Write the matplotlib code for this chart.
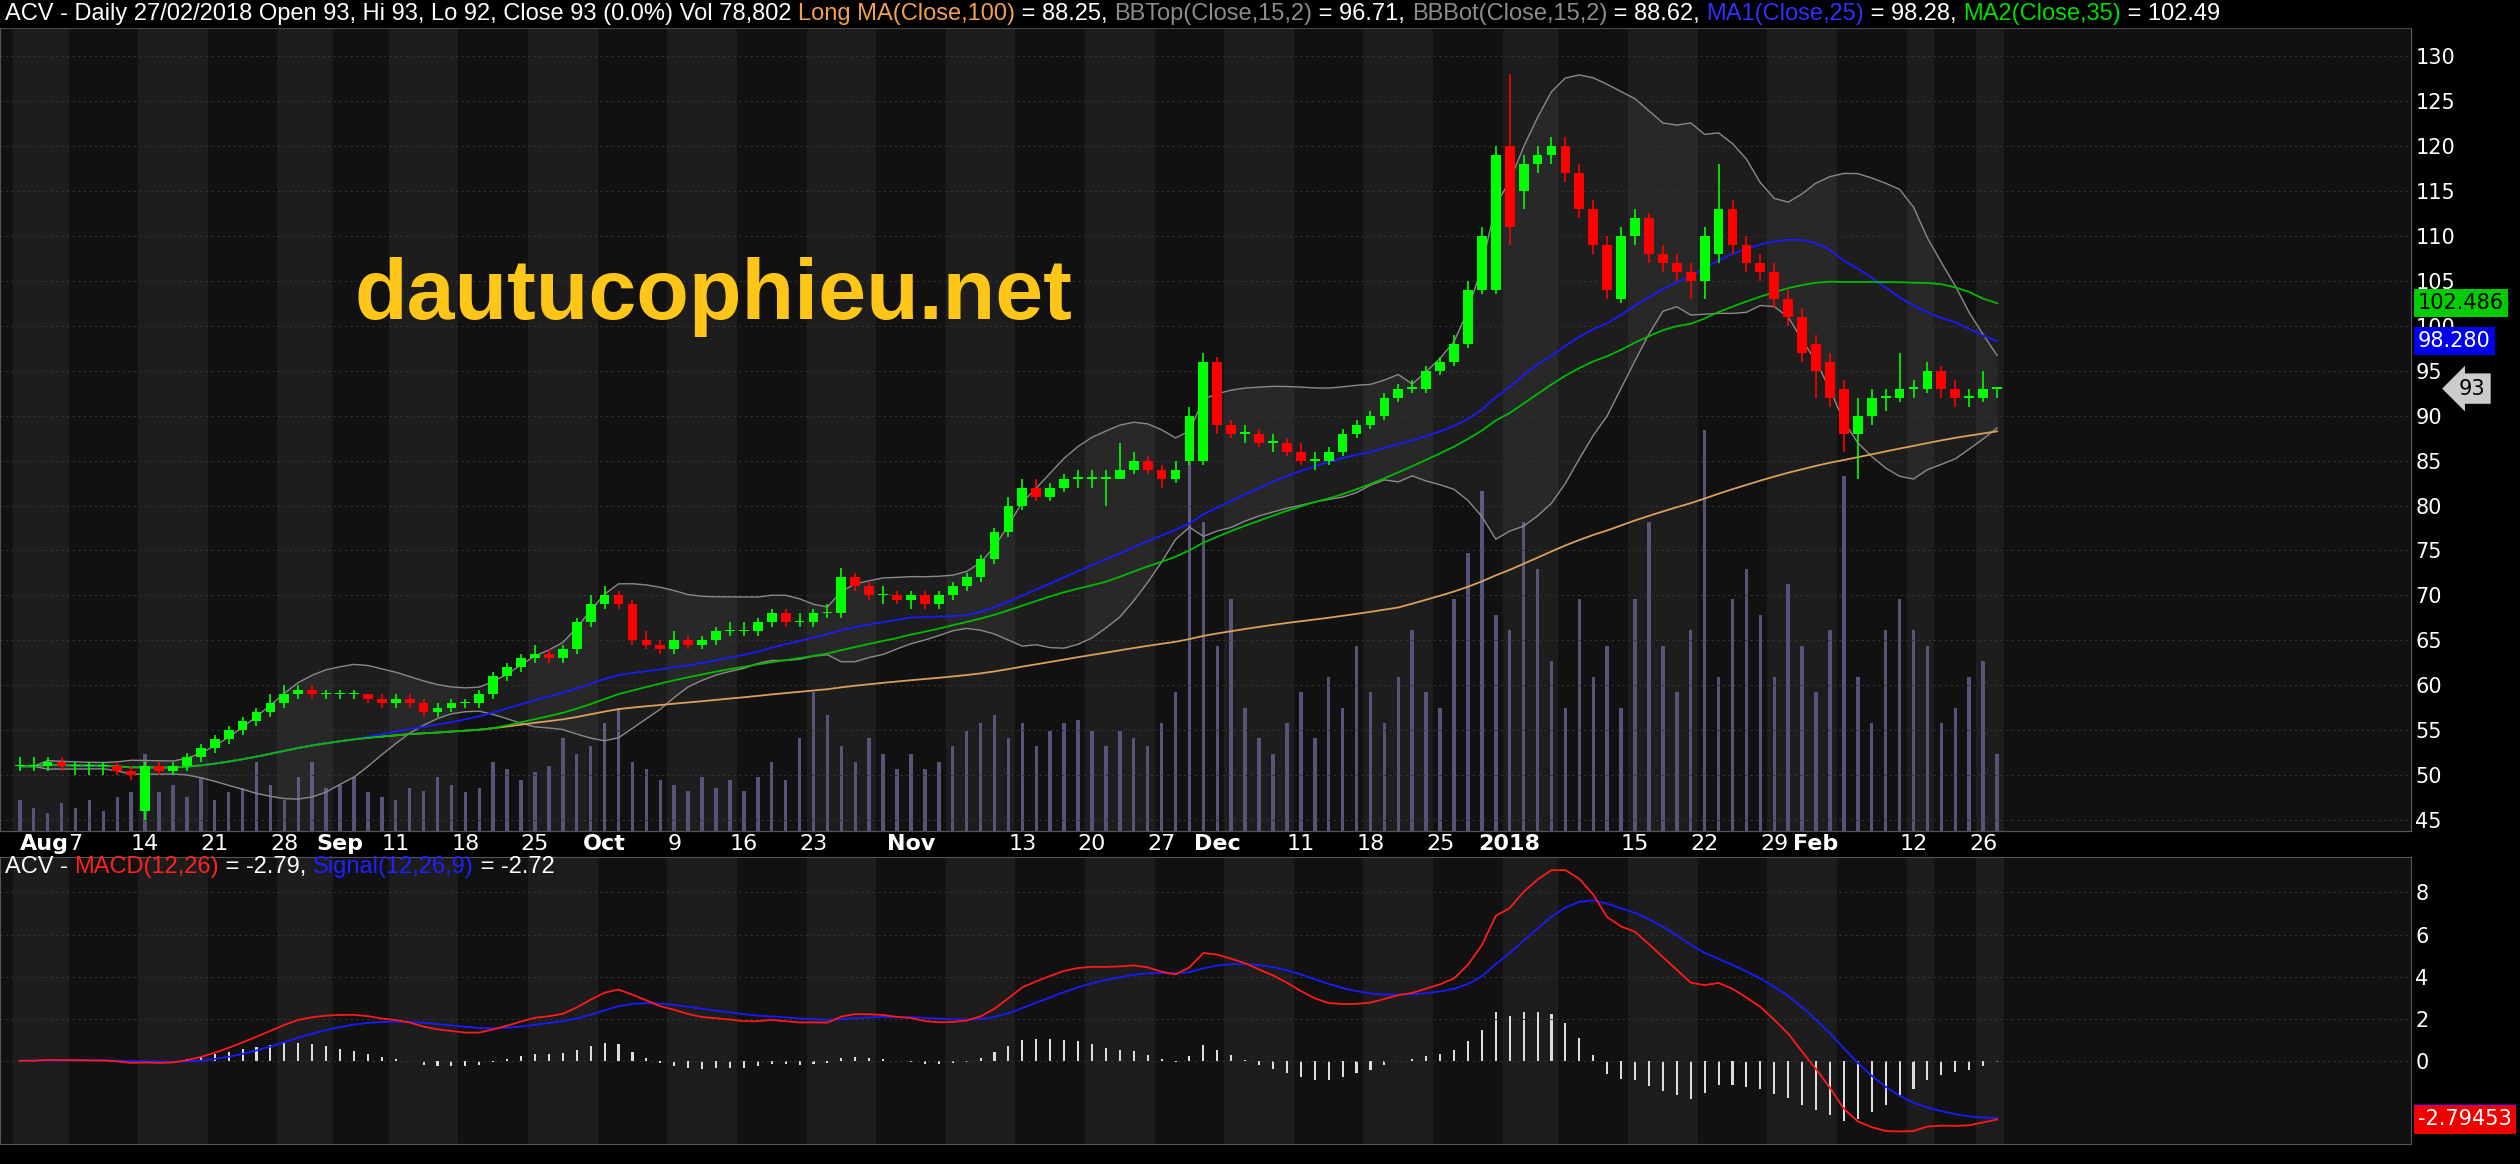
import numpy as np
import pandas as pd
import matplotlib
matplotlib.use("Agg")
import matplotlib.pyplot as plt
from matplotlib import font_manager as fm

names = {f.name for f in fm.fontManager.ttflist}
NARROW = "Liberation Sans Narrow" if "Liberation Sans Narrow" in names else "Liberation Sans"

closes = [51,51,51.5,51, 51,51,51,50.5,50, 51,50.5,51,52,53, 54,55,56,57,58, 59,59.5,59,59,
          59,59,58.5,58, 58.5,58,57,57.5,58, 58,59,61,62,63, 63.5,63,64,67,69,
          70,69,65,64.5,64, 65,64.5,65,66,66, 66,67,68,67,67, 68,68,72,71,70, 70,69.5,
          70,69,70, 71,72,74,77,80, 82,81,82,83,83, 83,83,84,85,84, 83,84,90,96,
          89, 88,88,87,87,86, 85,85,86,88,89, 90,92,93,93,95, 96,98,104,110,119,
          111,118,119,120, 117,113,109,104,110, 112,108,107,106,105, 110,113,109,107,106, 103,101,97,
          95,92, 88,90,92,92,93, 93,95, 93,92,92, 93,93]
opens = [51,51,51,51.5, 51,51,51,51,50.5, 46,51,50.5,51,52, 53,54,55,56,57, 58,59,59.5,59,
         59,59,59,58.5, 58,58.5,58,57,57.5, 58,58,59,61,62, 63,63.5,63,64,67,
         69,70,69,65,64.5, 64,65,64.5,65,66, 66,66,67,68,67, 67,68,68,72,71, 70,70,
         69.5,70,69, 70,71,72,74,77, 80,82,81,82,83, 83,83,83,84,85, 84,83,85,85,
         96, 89,88,88,87,87, 86,85,85,86,88, 89,90,92,93,93, 95,96,98,104,104,
         120,115,118,119, 120,117,113,109,103, 110,112,108,107,106, 105,108,113,109,107, 106,103,101,
         98,96, 93,88,90,92,92, 93,93, 95,93,92, 92,93]
highs = [52,52,52,52, 51.5,51.5,51.5,51.5,51, 51.5,51.5,51.5,52.5,53.5, 54.5,55.5,56.5,57.5,59, 60,60,60,59.5,
         59.5,59.5,59,59, 59,59,58.5,58,58.5, 58.5,59.5,61.5,62.5,63.5, 64.5,64,64.5,67.5,70,
         71,70.5,69.5,66,65, 66,65.5,65.5,66.5,67, 67,67.5,68.5,68.5,68, 68.5,69,73,72.5,71.5, 71,70.5,
         70.5,70.5,70.5, 71.5,72.5,74.5,77.5,81, 83,83,82.5,83.5,84, 84,84,87,86,85.5, 84.5,85,91,97,
         96.5, 89.5,89,88.5,88,87.5, 87,86,86.5,88.5,89.5, 90.5,92.5,93.5,94,95.5, 96.5,99,105,111,120,
         128,119,120,121, 121,118,114,110,111, 113,112.5,109,108,107, 111,118,114,110,108, 107,104,102,
         99,97, 94,92,93,93,97, 94,96, 95.5,94,93, 95,93]
lows = [50.5,50.5,50.5,50.5, 50,50,50,50,49.5, 45,50,50,50.5,51.5, 52.5,53.5,54.5,55.5,56.5, 57.5,58.5,58.5,58.5,
        58.5,58.5,58,57.5, 57.5,57.5,56.5,56.5,57, 57.5,57.5,58.5,60.5,61.5, 62.5,62.5,62.5,63.5,66.5,
        68.5,68.5,64.5,64,63.5, 63.5,64,64,64.5,65.5, 65.5,65.5,66.5,66.5,66.5, 66.5,67.5,67.5,70.5,69.5, 69,69,
        68.5,68.5,68.5, 69.5,70.5,71.5,73.5,76.5, 79.5,80.5,80.5,81.5,82, 82,80,83,83.5,83.5, 82,82.5,84.5,84.5,
        88, 87.5,87,86.5,86,85.5, 84.5,84,84.5,85.5,87.5, 88.5,89.5,91.5,92.5,92.5, 94.5,95.5,97.5,103.5,103.5,
        109,113,117,118, 116,112,108,103,102.5, 109,107,106,105,103, 103,107,108,106,105, 102,100,96,
        92,91, 86,83,89,90.5,91.5, 92,92.5, 92,91,91, 91.5,92]
volumes = [200,150,120,180, 150,200,130,220,250, 500,250,300,220,350, 200,250,280,450,300, 200,350,450,280,
           300,350,250,220, 200,280,260,350,300, 250,280,450,400,330, 380,420,600,500,550,
           700,800,450,400,330, 300,260,350,280,330, 260,350,450,330,600, 900,750,550,450,600, 500,400,
           500,400,450, 550,650,700,750,600, 700,550,650,700,720, 650,550,650,600,550, 700,900,2400,2000,
           1200, 1500,800,600,500,700, 900,600,1000,800,1200, 900,700,1000,1300,900, 800,1500,1800,2200,1400,
           1300,2000,1700,1100, 800,1500,1000,1200,800, 1500,2000,1200,900,1300, 2600,1000,1500,1700,1400, 1000,1600,1200,
           900,1300, 2300,1000,700,1300,1500, 1300,1200, 700,800,1000, 1100,500]

days = pd.bdate_range("2017-08-01", "2018-02-27")
hol = pd.to_datetime(["2017-09-01", "2017-09-04", "2018-01-01", "2018-02-14", "2018-02-15",
                      "2018-02-16", "2018-02-19", "2018-02-20"])
days = days[~days.isin(hol)]
n = len(closes)
assert len(days) == n == len(opens) == len(highs) == len(lows) == len(volumes)
x = np.arange(n)
c = pd.Series(closes, dtype=float)
ma100 = c.rolling(100, min_periods=1).mean()
ma25 = c.rolling(25, min_periods=1).mean()
ma35 = c.rolling(35, min_periods=1).mean()
bbm = c.rolling(15, min_periods=1).mean()
bbs = c.rolling(15, min_periods=2).std(ddof=0).fillna(0)
bbt, bbb = bbm + 2 * bbs, bbm - 2 * bbs
macd = c.ewm(span=12, adjust=False).mean() - c.ewm(span=26, adjust=False).mean()
sig = macd.ewm(span=9, adjust=False).mean()
hist = macd - sig

BG = "#000000"
fig = plt.figure(figsize=(25.2, 11.64), dpi=100, facecolor=BG)
AXR = 0.9566
fig.patches.append(plt.Rectangle((0, 0.286), AXR, 0.69, transform=fig.transFigure, color="#111111", zorder=-10))
ax = fig.add_axes([0, 0.286, AXR, 0.69])
ax2 = fig.add_axes([0, 0.017, AXR, 0.247], sharex=ax)
XL = (-1.42, 171.7)

axv = ax.twinx()
axv.set_ylim(0, 2600 / 0.5)
axv.set_yticks([])
axv.set_zorder(0)
ax.set_zorder(1)

weeks = days.to_period("W")
uw = weeks.unique()
for a in (axv, ax2):
    a.set_facecolor("#111111")
    for k, w in enumerate(uw):
        idx = np.where(weeks == w)[0]
        if k % 2 == 0:
            a.axvspan(idx[0] - 0.5, idx[-1] + 0.5, color="#1d1d1d", lw=0, zorder=0)
axv.bar(x, volumes, width=0.25, color="#55557a", zorder=1)
ax.patch.set_visible(False)
for a in (ax, ax2, axv):
    for s in a.spines.values():
        s.set_color("#555555")
for a in (ax, ax2):
    a.tick_params(colors="white", labelsize=15, length=0)
    a.yaxis.tick_right()

ax.fill_between(x, bbb, bbt, color="#ffffff", alpha=0.05, lw=0)
ax.plot(x, bbt, color="#8a8a8a", lw=1)
ax.plot(x, bbb, color="#8a8a8a", lw=1)
ax.plot(x, ma100, color="#d9a05b", lw=1.3)
ax.plot(x, ma25, color="#1a1aff", lw=1.3)
ax.plot(x, ma35, color="#00bb00", lw=1.3)
o, h, l, cl = map(np.array, (opens, highs, lows, closes))
up = cl >= o
col = np.where(up, "#00ff00", "#ff0000")
ax.vlines(x, l, h, colors=col, lw=1.2, zorder=3)
ax.bar(x, np.maximum(np.abs(cl - o), 0.15), bottom=np.minimum(o, cl), width=0.7, color=col, zorder=4)
ax.set_ylim(43.8, 133.1)
ax.set_yticks(range(45, 131, 5))
ax.set_xlim(*XL)
ax.grid(axis="y", color="#333333", ls=(0, (2, 3)), lw=0.8)

ax.text(0.147, 0.665, "dautucophieu.net", transform=ax.transAxes, color="#ffc61a",
        fontsize=62, fontweight="bold", family=NARROW, va="center", zorder=6)

def tag(a, y, s, fc, tc="white"):
    a.text(1.003, y, s, transform=a.get_yaxis_transform(), color=tc, fontsize=15, va="center",
           ha="left", bbox=dict(boxstyle="square,pad=0.2", fc=fc, ec="none"), clip_on=False, zorder=10)

tag(ax, ma35.iloc[-1], f"{ma35.iloc[-1]:.3f}", "#00cc00", "black")
tag(ax, ma25.iloc[-1], f"{ma25.iloc[-1]:.3f}", "#0000ee")
ax.text(1.02, closes[-1], f"{closes[-1]:g}", transform=ax.get_yaxis_transform(), color="black", fontsize=15,
        va="center", ha="left", bbox=dict(boxstyle="larrow,pad=0.25", fc="#cccccc", ec="none"), clip_on=False, zorder=10)

pos, txt, bold = [], [], []
skip = {pd.Timestamp("2018-01-08")}
starts = [i for i in range(n) if i == 0 or days[i].month != days[i - 1].month]
for i, d in enumerate(days):
    if i in starts:
        pos.append(i); txt.append("2018" if (d.year == 2018 and d.month == 1) else d.strftime("%b")); bold.append(True)
    elif d.weekday() == 0 and d.day >= 7 and d not in skip:
        nxt = [s for s in starts if s > i]
        if not nxt or nxt[0] - i > 2:
            pos.append(i); txt.append(str(d.day)); bold.append(False)
ax.set_xticks(pos)
ax.set_xticklabels(txt)
for k, t in enumerate(ax.get_xticklabels()):
    t.set_fontweight("bold" if bold[k] else "normal")
    if k == 0:
        t.set_horizontalalignment("left")
        t.set_x(-1.35)
ax.tick_params(axis="x", labelsize=16, pad=2)
plt.setp(ax2.get_xticklabels(), visible=False)

ax2.bar(x, hist, width=0.15, color="#dddddd")
ax2.plot(x, sig, color="#1a1aff", lw=1.3)
ax2.plot(x, macd, color="#ff1a1a", lw=1.3)
ax2.set_ylim(-3.97, 9.7)
ax2.set_yticks([0, 2, 4, 6, 8])
ax2.grid(axis="y", color="#333333", ls=(0, (2, 3)), lw=0.8)
tag(ax2, sig.iloc[-1], f"{sig.iloc[-1]:.5f}", "#0000ee")
tag(ax2, macd.iloc[-1], f"{macd.iloc[-1]:.5f}", "#ee0000")

def segs(y, parts, fs=17):
    fig.canvas.draw()
    r = fig.canvas.get_renderer()
    xx = 0.002
    for s, cc in parts:
        t = fig.text(xx, y, s, color=cc, fontsize=fs, family=NARROW, va="center", ha="left", zorder=20)
        bb = t.get_window_extent(r)
        xx += bb.width / fig.bbox.width

fig.patches.append(plt.Rectangle((0, 0.977), 1, 0.023, transform=fig.transFigure, color="black", zorder=5))
G = "#8c8c8c"
segs(0.988, [("ACV - Daily 27/02/2018 Open 93, Hi 93, Lo 92, Close 93 (0.0%) Vol 78,802 ", "white"),
             ("Long MA(Close,100)", "#f0a050"), (f" = {ma100.iloc[-1]:.2f}, ", "white"),
             ("BBTop(Close,15,2)", G), (f" = {bbt.iloc[-1]:.2f}, ", "white"),
             ("BBBot(Close,15,2)", G), (f" = {bbb.iloc[-1]:.2f}, ", "white"),
             ("MA1(Close,25)", "#3030ff"), (f" = {ma25.iloc[-1]:.2f}, ", "white"),
             ("MA2(Close,35)", "#00dd00"), (f" = {ma35.iloc[-1]:.2f}", "white")])
segs(0.255, [("ACV - ", "white"), ("MACD(12,26)", "#ff2020"), (f" = {macd.iloc[-1]:.2f}, ", "white"),
             ("Signal(12,26,9)", "#2020ff"), (f" = {sig.iloc[-1]:.2f}", "white")])

fig.savefig("out.png", dpi=100, facecolor=BG)
